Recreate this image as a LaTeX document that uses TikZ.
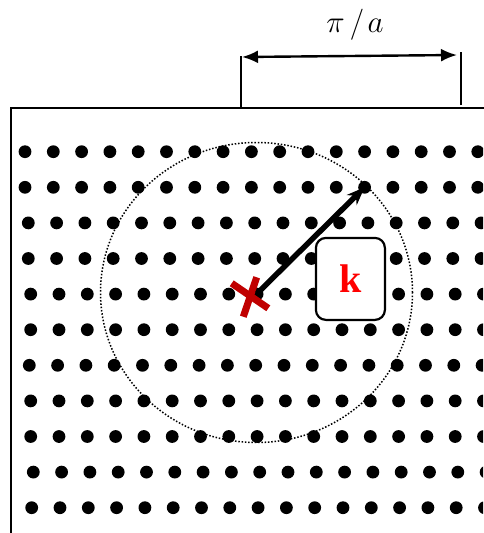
\documentclass[tikz,border=0pt]{standalone}
\usepackage{fontspec}
\newfontfamily\kfont{Liberation Serif}
\usetikzlibrary{arrows.meta}
\definecolor{xred}{RGB}{192,0,0}
\begin{document}
\begin{tikzpicture}[x=1pt,y=-1pt,
  latticedot/.style={circle,fill=black,inner sep=0pt,minimum size=12.8pt},
  frameline/.style={line width=2.4pt,line cap=rect},
  dimline/.style={line width=2.4pt},
  kboxstyle/.style={draw,line width=2.2pt,rounded corners=10pt,fill=white,minimum width=69pt,minimum height=82pt,inner sep=0pt},
  crossline/.style={line width=7pt,xred},
  kvec/.style={line width=5.5pt,-{Stealth[length=18pt,width=14pt]}}]
\useasboundingbox (0,0) rectangle (483,533);
% lattice
\begin{scope}
\clip (0,0) rectangle (483,533);
\foreach \r/\s in {0/25,1/25,2/28.3,3/28.3,4/30.7,5/30.7,6/29.3,7/30.7,8/30.7,9/33.3,10/31.7} {
  \foreach \c in {0,...,16} {
    \node[latticedot] (d-\r-\c) at ({\s+28.3*\c},{151.7+35.6*\r}) {};
  }
}
\end{scope}
% frame
\coordinate (fb) at (11,533);
\coordinate (fc) at (11,108);
\coordinate (fr) at (483,108);
\draw[frameline] (fb) -- (fc) -- (fr);
% dimension
\coordinate (l0) at (241,108);
\coordinate (l1) at (241,56);
\coordinate (r0) at (461,105);
\coordinate (r1) at (461,52);
\draw[dimline] (l0) -- (l1);
\draw[dimline] (r0) -- (r1);
\coordinate (al) at (242,57);
\coordinate (ar) at (457,55);
\draw[dimline,{Latex[length=16pt,width=13pt]}-{Latex[length=16pt,width=13pt]}] (al) -- (ar);
\node (lab) at (355,25) {\scalebox{1.5}{\fontsize{20}{24}\selectfont $\pi\mkern3mu/\mkern2mu a$}};
% circle
\draw[line width=1.5pt,dash pattern=on 1.5pt off 1.8pt] (256.5,292.5) ellipse [x radius=156pt,y radius=150pt];
% cross
\coordinate (xc) at (257.3,293.3);
\coordinate (xa1) at (231.7,283.3);
\coordinate (xa2) at (268.3,308.3);
\coordinate (xb1) at (256.7,277.3);
\coordinate (xb2) at (243.3,316.7);
\draw[crossline] (xa1) -- (xa2);
\draw[crossline] (xb1) -- (xb2);
% k vector
\draw[kvec] (xc) -- (d-1-12.center);
% k box
\node[kboxstyle] (kbox) at (350.4,278.9) {\kfont\bfseries\fontsize{40}{40}\selectfont\color{red}k};
\end{tikzpicture}
\end{document}
